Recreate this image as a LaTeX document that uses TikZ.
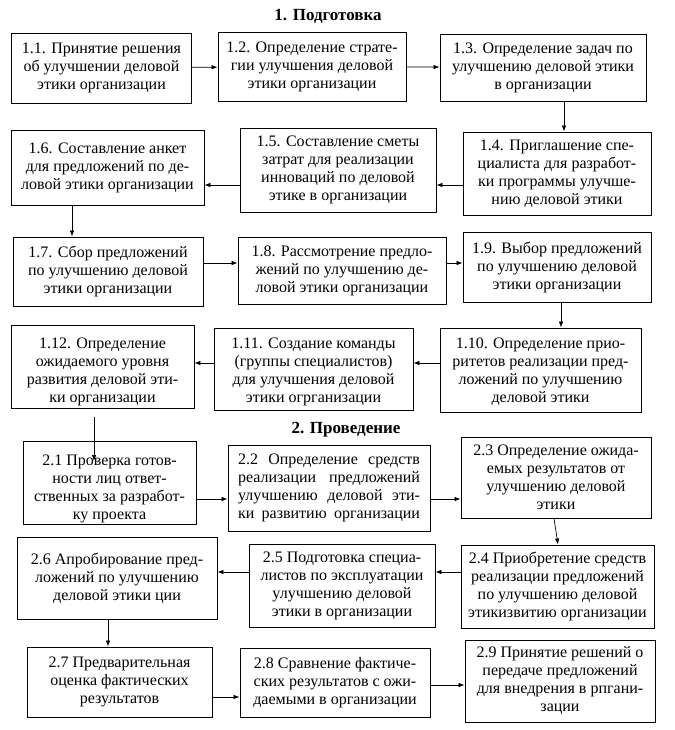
\documentclass[tikz,border=0pt]{standalone}
\usepackage{fontspec}
\setmainfont{Liberation Serif}
\usetikzlibrary{arrows.meta}
\newcommand{\Bx}[7]{%
 \node[bx, minimum width=#4pt, minimum height=#5pt] (#1) at (#2,#3) {};
 \begin{scope}
 \clip (#1.south west) rectangle (#1.north east);
 \node[tx] (#1t) at ([yshift=#6pt]#1.center) {#7};
 \end{scope}}
\newcommand{\Jl}[1]{\makebox[182pt][s]{#1}}
\begin{document}
\begin{tikzpicture}[x=1pt,y=-1pt,
 bx/.style={draw=black, line width=0.9pt, rectangle, inner sep=0pt},
 tx/.style={align=center, inner sep=0pt, font=\fontsize{16}{18}\selectfont},
 ttl/.style={font=\fontsize{17}{19}\selectfont\bfseries, inner sep=0pt},
 arr/.style={-{Latex[length=6pt,width=4.5pt]}, line width=0.7pt}]
\useasboundingbox[fill=white] (0,0) rectangle (674,730);

\node[ttl] (t1) at (328,16) {1. Подготовка};

\Bx{b11}{101.5}{68}{180}{70}{0}{1.1. Принятие решения\\об улучшении деловой\\этики организации}
\Bx{b12}{312}{66.5}{188}{69}{0}{1.2. Определение страте-\\гии улучшения деловой\\этики организации}
\Bx{b13}{543}{67.5}{206}{67}{0}{1.3. Определение задач по\\улучшению деловой этики\\в организации}

\Bx{b16}{107.5}{167.5}{193}{75}{0}{1.6. Составление анкет\\для предложений по де-\\ловой этики организации}
\Bx{b15}{338}{170}{196}{84}{0}{1.5. Составление сметы\\затрат для реализации\\инноваций по деловой\\этике в организации}
\Bx{b14}{557}{173.5}{188}{83}{0}{1.4. Приглашение спе-\\циалиста для разработ-\\ки программы улучше-\\нию деловой этики}

\Bx{b17}{108}{271.5}{190}{69}{0}{1.7. Сбор предложений\\по улучшению деловой\\этики организации}
\Bx{b18}{342}{270.5}{208}{67}{0}{1.8. Рассмотрение предло-\\жений по улучшению де-\\ловой этики организации}
\Bx{b19}{557}{267}{188}{70}{0}{1.9. Выбор предложений\\по улучшению деловой\\этики организации}

\Bx{b112}{102.5}{366.5}{183}{83}{-5}{1.12. Определение\\ожидаемого уровня\\развития деловой эти-\\ки организации}
\Bx{b111}{313.5}{369}{199}{82}{-3}{1.11. Создание команды\\(группы специалистов)\\для улучшения деловой\\этики огрганизации}
\Bx{b110}{540.5}{370}{201}{84}{-2}{1.10. Определение прио-\\ритетов реализации пред-\\ложений по улучшению\\деловой этики}

\node[ttl] (t2) at (346,430) {2. Проведение};

\Bx{b21}{109.5}{482.5}{173}{83}{-6}{2.1 Проверка готов-\\ности лиц ответ-\\ственных за разработ-\\ку проекта}
\Bx{b22}{329}{488}{202}{86}{0}{\Jl{2.2 Определение средств}\\\Jl{реализации предложений}\\\Jl{улучшению деловой эти-}\\\Jl{ки развитию организации}}
\Bx{b23}{556}{477.5}{190}{81}{0}{2.3 Определение ожида-\\емых результатов от\\улучшению деловой\\этики}

\Bx{b26}{117}{578}{200}{82}{0}{2.6 Апробирование пред-\\ложений по улучшению\\деловой этики ции}
\Bx{b25}{342}{585.5}{186}{83}{0}{2.5 Подготовка специа-\\листов по эксплуатации\\улучшению деловой\\этики в организации}
\Bx{b24}{557.5}{586.5}{193}{83}{0}{2.4 Приобретение средств\\реализации предложений\\по улучшению деловой\\этикизвитию организации}

\Bx{b27}{119.5}{682}{185}{70}{0}{2.7 Предварительная\\оценка фактических\\результатов}
\Bx{b28}{335}{682.5}{190}{69}{0}{2.8 Сравнение фактиче-\\ских результатов с ожи-\\даемыми в организации}
\Bx{b29}{560}{681}{190}{82}{0}{2.9 Принятие решений о\\передаче предложений\\для внедрения в рпгани-\\зации}

% connectors
\draw[arr] (b11) -- (b12);
\draw[arr] (b12) -- (b13);
\coordinate (v1) at (564,0);
\draw[arr] (b13.south -| v1) -- (b14.north -| v1);
\coordinate (h1) at (0,185);
\draw[arr] (b14.west |- h1) -- (b15.east |- h1);
\draw[arr] (b15.west |- h1) -- (b16.east |- h1);
\coordinate (v2) at (72,0);
\draw[arr] (b16.south -| v2) -- (b17.north -| v2);
\coordinate (h2) at (0,263);
\draw[arr] (b17.east |- h2) -- (b18.west |- h2);
\draw[arr] (b18.east |- h2) -- (b19.west |- h2);
\coordinate (v3) at (561,0);
\draw[arr] (b19.south -| v3) -- (b110.north -| v3);
\coordinate (h3) at (0,363);
\draw[arr] (b110.west |- h3) -- (b111.east |- h3);
\draw[arr] (b111.west |- h3) -- (b112.east |- h3);
\coordinate (s1) at (94,417);
\coordinate (e1) at (94,461);
\draw[arr] (s1) -- (e1);
\coordinate (h4) at (0,499);
\draw[arr] (b21.east |- h4) -- (b22.west |- h4);
\draw[arr] (b22.east |- h4) -- (b23.west |- h4);
\coordinate (v4) at (554,0);
\coordinate (v5) at (558,0);
\draw[arr] (b23.south -| v4) -- (b24.north -| v5);
\coordinate (h5) at (0,572);
\draw[arr] (b24.west |- h5) -- (b25.east |- h5);
\draw[arr] (b25.west |- h5) -- (b26.east |- h5);
\coordinate (v6) at (108,0);
\draw[arr] (b26.south -| v6) -- (b27.north -| v6);
\coordinate (h6) at (0,697);
\coordinate (h7) at (0,685);
\draw[arr] (b27.east |- h6) -- (b28.west |- h6);
\draw[arr] (b28.east |- h7) -- (b29.west |- h7);
\end{tikzpicture}
\end{document}
